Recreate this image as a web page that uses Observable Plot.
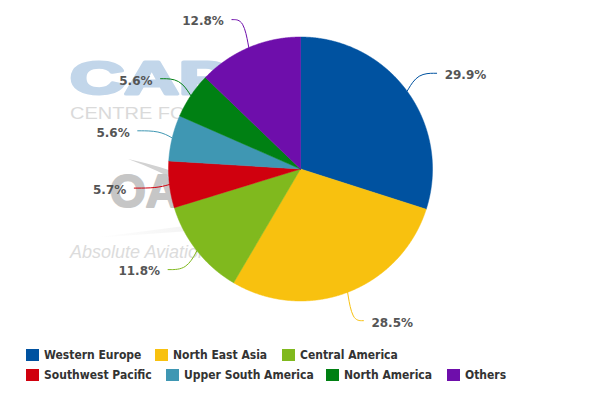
<!DOCTYPE html>
<html><head><meta charset="utf-8">
<script src="https://cdn.jsdelivr.net/npm/d3@7"></script>
<script src="https://cdn.jsdelivr.net/npm/@observablehq/plot@0.6"></script>
<style>
body{margin:0;background:#fff;}
#wrap{position:relative;width:600px;height:400px;overflow:hidden;}
#wm,#chart{position:absolute;left:0;top:0;}
.item{position:absolute;display:flex;align-items:center;font:bold 12px "DejaVu Sans Condensed","DejaVu Sans",sans-serif;color:#333;white-space:nowrap;height:12px;line-height:12px;}
.sw{width:13px;height:12px;margin-right:5px;flex:none;}
</style></head><body>
<div id="wrap">
<svg id="wm" width="600" height="340">
  <defs><linearGradient id="g1" x1="0" x2="1" y1="0" y2="0"><stop offset="0" stop-color="#fff"/><stop offset="1" stop-color="#e6e6e6"/></linearGradient></defs>
  <text x="70" y="94" font-family="Liberation Sans" font-weight="bold" font-size="46" fill="#c2d6ea" stroke="#c2d6ea" stroke-width="3" stroke-linejoin="round" textLength="208" lengthAdjust="spacingAndGlyphs">CAPA</text>
  <text x="70" y="119" font-family="Liberation Sans" font-size="16.5" fill="#dadada" textLength="225" lengthAdjust="spacingAndGlyphs">CENTRE FOR AVIATION</text>
  <path d="M128,159 Q160,166 186,176 L180,183 Q158,170 128,159Z" fill="#d2d2d2"/>
  <text x="110" y="207" font-family="Liberation Sans" font-weight="bold" font-size="46" fill="#c6c6c6" stroke="#c6c6c6" stroke-width="2" stroke-linejoin="round">OAG</text>
  <path d="M92,238 L300,211 L300,223 Z" fill="url(#g1)"/>
  <text x="70" y="258" font-family="Liberation Sans" font-style="italic" font-size="18" fill="#dcdcdc">Absolute Aviation Intelligence</text>
</svg>
<div id="chart"></div>
<div id="legend"></div>
</div>
<script>
const categories = ["Western Europe","North East Asia","Central America","Southwest Pacific","Upper South America","North America","Others"];
const shares = [29.9, 28.5, 11.8, 5.7, 5.6, 5.6, 12.8];
const colors = ["#0052a0","#f8c10f","#80b91e","#d0000e","#3f97b3","#008013","#6e0eab"];

const W = 600, H = 340, R = 132, CX = 300, CY = 168.5;
const data = categories.map((name, i) => ({name, value: shares[i]}));
const arcs = d3.pie().sort(null).value(d => d.value)(data);

// slice polygons in unit-circle coordinates (y up)
const slicePts = [];
for (const a of arcs) {
  slicePts.push({name: a.data.name, x: 0, y: 0});
  const n = Math.max(4, Math.ceil((a.endAngle - a.startAngle) / 0.005));
  for (let k = 0; k <= n; k++) {
    const t = a.startAngle + (a.endAngle - a.startAngle) * k / n;
    slicePts.push({name: a.data.name, x: Math.sin(t), y: Math.cos(t)});
  }
  slicePts.push({name: a.data.name, x: 0, y: 0});
}

// connectors and label anchors
const px = 1 / R;
const conn = [], labels = [];
for (const a of arcs) {
  const m = (a.startAngle + a.endAngle) / 2;
  const s = Math.sin(m), c = Math.cos(m);
  const side = s >= 0 ? 1 : -1;
  const ex = s * 1.23 + side * 5 * px, ey = c * 1.23;
  conn.push({name: a.data.name, x: s, y: c});
  conn.push({name: a.data.name, x: s * 1.1, y: ey});
  conn.push({name: a.data.name, x: ex, y: ey});
  labels.push({name: a.data.name, x: ex, y: ey, side, label: a.data.value.toFixed(1) + "%"});
}

const txt = {fontWeight: "bold", fontSize: 12, fill: "#555", fontFamily: "DejaVu Sans, sans-serif", dy: 2};
const chart = Plot.plot({
  width: W, height: H, margin: 0,
  style: {background: "transparent", overflow: "visible"},
  x: {domain: [-CX / R, (W - CX) / R], axis: null},
  y: {domain: [-(H - CY) / R, CY / R], axis: null},
  color: {domain: categories, range: colors},
  marks: [
    Plot.line(slicePts, {x: "x", y: "y", z: "name", fill: "name", stroke: "name", strokeWidth: 0.5, curve: "linear"}),
    Plot.line(conn, {x: "x", y: "y", z: "name", stroke: "name", strokeWidth: 1, curve: "basis"}),
    Plot.text(labels.filter(d => d.side > 0), {x: "x", y: "y", text: "label", textAnchor: "start", dx: 8, ...txt}),
    Plot.text(labels.filter(d => d.side < 0), {x: "x", y: "y", text: "label", textAnchor: "end", dx: -8, ...txt})
  ]
});
document.getElementById("chart").appendChild(chart);

// legend
const legendPos = [[26,349],[155,349],[282,349],[26,369],[166,369],[326,369],[447,369]];
const leg = document.getElementById("legend");
categories.forEach((name, i) => {
  const it = document.createElement("div");
  it.className = "item";
  it.style.left = legendPos[i][0] + "px";
  it.style.top = legendPos[i][1] + "px";
  const sw = document.createElement("span");
  sw.className = "sw"; sw.style.background = colors[i];
  it.appendChild(sw);
  it.appendChild(document.createTextNode(name));
  leg.appendChild(it);
});
</script>
</body></html>
